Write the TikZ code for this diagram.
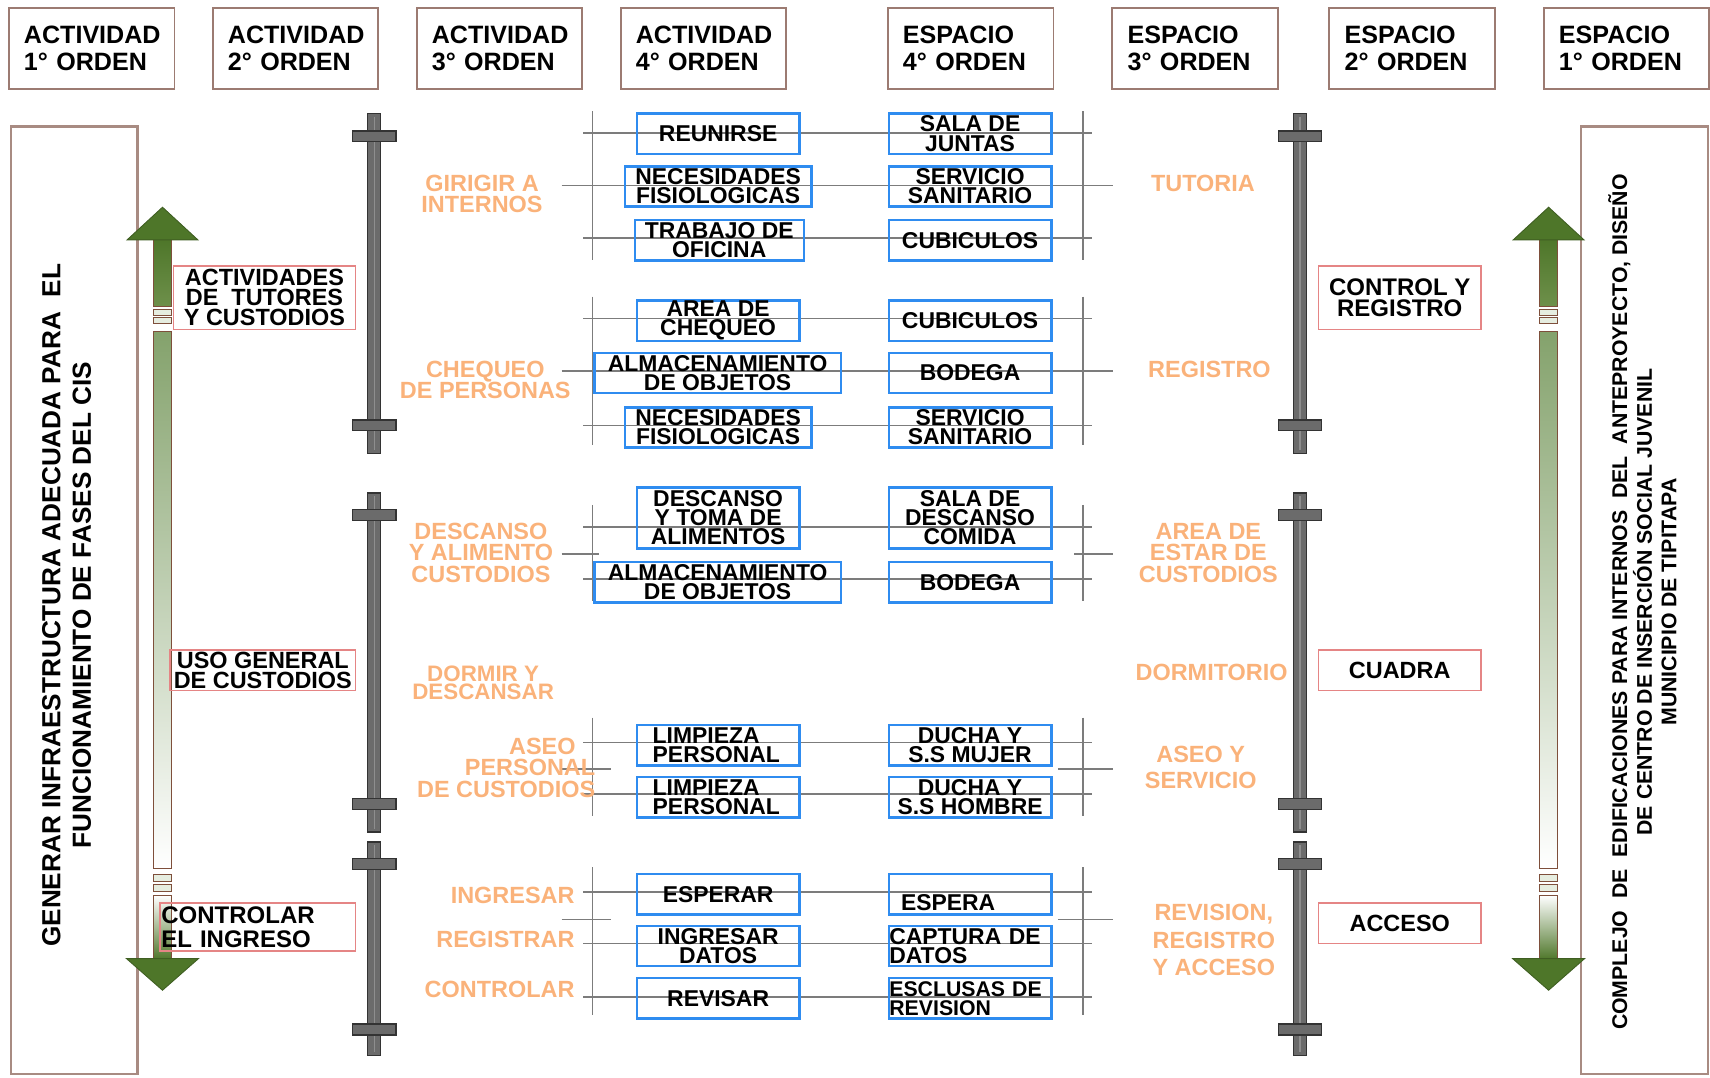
\documentclass[tikz,border=0pt]{standalone}
\usepackage{fontspec}
\setmainfont{Liberation Sans}
\definecolor{hdrc}{HTML}{9C7B72}
\definecolor{bigc}{HTML}{A88B82}
\definecolor{redc}{HTML}{E58585}
\definecolor{bluec}{HTML}{2F8CF0}
\definecolor{orangec}{HTML}{FAB27A}
\definecolor{linec}{HTML}{7C7C7C}
\definecolor{barfill}{HTML}{6B6B6B}
\definecolor{bardraw}{HTML}{333333}
\definecolor{barhi}{HTML}{8E8E8E}
\definecolor{gdark}{HTML}{4E7629}
\definecolor{gmid}{HTML}{6E904B}
\definecolor{gmid2}{HTML}{84A26C}
\definecolor{gpale}{HTML}{E6EDE0}
\definecolor{gline}{HTML}{3F5E22}
\definecolor{brn}{HTML}{7E4F3B}
\begin{document}
\begin{tikzpicture}[x=1pt,y=-1pt,
  hdr/.style={draw=hdrc, line width=1.8pt, minimum width=152pt, minimum height=75pt,
    text width=124pt, align=left, inner xsep=14pt, inner ysep=0pt,
    font=\fontsize{23}{25}\selectfont\bfseries},
  bigbox/.style={draw=bigc, line width=2pt, minimum width=116pt, minimum height=869pt, inner sep=0pt},
  bigtext/.style={align=center, inner sep=0pt, font=\fontsize{24}{28}\selectfont\bfseries},
  rtext/.style={align=center, inner sep=0pt, font=\fontsize{19.5}{22.5}\selectfont\bfseries},
  bbox/.style={draw=bluec, line width=2.2pt, inner sep=0pt, align=center,
    font=\fontsize{21}{17.5}\selectfont\bfseries, minimum height=37pt, minimum width=149pt},
  btext/.style={inner sep=0pt, font=\fontsize{21}{17.5}\selectfont\bfseries},
  rbox/.style={draw=redc, line width=1.5pt, inner sep=0pt, align=center,
    font=\fontsize{21.5}{18.5}\selectfont\bfseries, minimum height=37pt, minimum width=149pt},
  ot/.style={text=orangec, inner sep=0pt, align=center, font=\fontsize{21.5}{19.5}\selectfont\bfseries},
  gl/.style={draw=linec, line width=1.4pt},
  gv/.style={draw=linec, line width=1.2pt},
  bar/.style={draw=bardraw, fill=barfill, line width=1.2pt},
  brnline/.style={draw=brn, line width=0.8pt}
]
\useasboundingbox (0,0) rectangle (1568,988);

% ---------- headers ----------
\node[hdr] (h1) at (84,44.5) {ACTIVIDAD\\1° ORDEN};
\node[hdr] (h2) at (271,44.5) {ACTIVIDAD\\2° ORDEN};
\node[hdr] (h3) at (458,44.5) {ACTIVIDAD\\3° ORDEN};
\node[hdr] (h4) at (645,44.5) {ACTIVIDAD\\4° ORDEN};
\node[hdr] (h5) at (890,44.5) {ESPACIO\\4° ORDEN};
\node[hdr] (h6) at (1096,44.5) {ESPACIO\\3° ORDEN};
\node[hdr] (h7) at (1295,44.5) {ESPACIO\\2° ORDEN};
\node[hdr] (h8) at (1491.5,44.5) {ESPACIO\\1° ORDEN};

% ---------- big side boxes ----------
\node[bigbox] (lbox) at (68,550.5) {};
\node[bigtext, rotate=90] (ltext) at (61,555) {GENERAR INFRAESTRUCTURA ADECUADA PARA\ \ EL\\FUNCIONAMIENTO DE FASES DEL CIS};
\node[bigbox] (rbox) at (1508,550.5) {};
\node[rtext, rotate=90] (rtxt) at (1506,552) {COMPLEJO\ \ DE\ \ EDIFICACIONES PARA INTERNOS\ \ DEL\ \ ANTEPROYECTO, DISEÑO\\DE CENTRO DE INSERCIÓN SOCIAL JUVENIL\\MUNICIPIO DE TIPITAPA};

% ---------- green arrows ----------
\foreach \ax in {149,1420}{
  \shade[top color=gdark, bottom color=gmid] (\ax-8,219) rectangle (\ax+8,281);
  \draw[brnline] (\ax-8,219) rectangle (\ax+8,281);
  \draw[brnline, fill=gpale] (\ax-8,284) rectangle (\ax+8,289);
  \draw[brnline, fill=gpale] (\ax-8,291.5) rectangle (\ax+8,296.5);
  \shade[top color=gmid2, bottom color=white] (\ax-8,304) rectangle (\ax+8,796);
  \draw[brnline] (\ax-8,304) rectangle (\ax+8,796);
  \draw[brnline, fill=gpale] (\ax-8,802) rectangle (\ax+8,808);
  \draw[brnline, fill=gpale] (\ax-8,811) rectangle (\ax+8,817);
  \shade[top color=white, bottom color=gdark] (\ax-8,821) rectangle (\ax+8,880);
  \draw[brnline] (\ax-8,880) -- (\ax-8,821) -- (\ax+8,821) -- (\ax+8,880);
  \draw[fill=gdark, draw=gline, line width=0.8pt] (\ax,190) -- (\ax+32.5,220) -- (\ax-32.5,220) -- cycle;
  \draw[fill=gdark, draw=gline, line width=0.8pt] (\ax-33,879) -- (\ax+33,879) -- (\ax,908) -- cycle;
}

% ---------- gray bars ----------
\foreach \bx in {343,1192}{
  \foreach \ta/\tb/\ca/\cb in {104/416/125/390, 452/763/472/737, 772/968/792/944}{
    \draw[bar] (\bx-6,\ta) rectangle (\bx+6,\tb);
    \draw[barhi, line width=1pt] (\bx,\ta+3) -- (\bx,\tb-3);
    \draw[bar] (\bx-20,\ca-5) rectangle (\bx+20,\ca+5);
    \draw[bar] (\bx-20,\cb-5) rectangle (\bx+20,\cb+5);
  }
}

% ---------- thin gray grid lines ----------
\foreach \ya/\yb in {102/238, 272/408, 463/551, 658/748, 795/931}{
  \draw[gv] (543,\ya) -- (543,\yb);
  \draw[gv] (993,\ya) -- (993,\yb);
}
\foreach \yy in {122,218,292,390,483,531,681,728,818,865,914}{
  \draw[gl] (535,\yy) -- (1001,\yy);
}
\foreach \yy in {170,340}{
  \draw[gl] (515,\yy) -- (1021,\yy);
}
\draw[gl] (515,508) -- (549,508);
\draw[gl] (985,508) -- (1021,508);
\draw[gl] (515,705) -- (560,705);
\draw[gl] (970,705) -- (1021,705);
\draw[gl] (515,843) -- (560,843);
\draw[gl] (970,843) -- (1021,843);

% ---------- blue boxes: activity 4th order ----------
\node[bbox] (a1) at (658.5,122.5) {REUNIRSE};
\node[bbox, minimum width=171pt] (a2) at (658.5,171) {NECESIDADES\\FISIOLOGICAS};
\node[bbox, minimum width=155pt] (a3) at (659.5,220.5) {TRABAJO DE\\OFICINA};
\node[bbox] (a4) at (658.5,294) {AREA DE\\CHEQUEO};
\node[bbox, minimum width=226pt] (a5) at (658,342) {ALMACENAMIENTO\\DE OBJETOS};
\node[bbox, minimum width=171pt] (a6) at (658.5,392) {NECESIDADES\\FISIOLOGICAS};
\node[bbox, minimum height=56pt] (a7) at (658.5,475) {DESCANSO\\Y TOMA DE\\ALIMENTOS};
\node[bbox, minimum width=226pt] (a8) at (658,534) {ALMACENAMIENTO\\DE OBJETOS};
\node[bbox, text width=120pt, align=left, inner xsep=14.5pt] (a9) at (658.5,683.5) {LIMPIEZA\\PERSONAL};
\node[bbox, text width=120pt, align=left, inner xsep=14.5pt] (a10) at (658.5,731) {LIMPIEZA\\PERSONAL};
\node[bbox] (a11) at (658.5,820) {ESPERAR};
\node[bbox] (a12) at (658.5,867.5) {INGRESAR\\DATOS};
\node[bbox] (a13) at (658.5,915.5) {REVISAR};

% ---------- blue boxes: space 4th order ----------
\node[bbox] (s1) at (889.5,122.5) {SALA DE\\JUNTAS};
\node[bbox] (s2) at (889.5,171) {SERVICIO\\SANITARIO};
\node[bbox] (s3) at (889.5,220.5) {CUBICULOS};
\node[bbox] (s4) at (889.5,294) {CUBICULOS};
\node[bbox] (s5) at (889.5,342) {BODEGA};
\node[bbox] (s6) at (889.5,392) {SERVICIO\\SANITARIO};
\node[bbox, minimum height=56pt] (s7) at (889.5,475) {SALA DE\\DESCANSO\\COMIDA};
\node[bbox] (s8) at (889.5,534) {BODEGA};
\node[bbox] (s9) at (889.5,683.5) {DUCHA Y\\S.S MUJER};
\node[bbox] (s10) at (889.5,731) {DUCHA Y\\S.S HOMBRE};
\node[bbox] (s11) at (889.5,820) {};
\node[btext, anchor=west] (s11t) at (826,828) {ESPERA};
\node[bbox, text width=148pt, align=left, inner xsep=0.5pt] (s12) at (889.5,867.5) {CAPTURA DE\\DATOS};
\node[bbox, text width=148pt, align=left, inner xsep=0.5pt, font=\fontsize{19.5}{17}\selectfont\bfseries] (s13) at (889.5,915.5) {ESCLUSAS DE\\REVISION};

% ---------- orange labels: activity 3rd order ----------
\node[ot] (o1) at (442,177.5) {GIRIGIR A\\INTERNOS};
\node[ot] (o2) at (445,348.5) {CHEQUEO\\DE PERSONAS};
\node[ot] (o3) at (441,507) {DESCANSO\\Y ALIMENTO\\CUSTODIOS};
\node[ot, font=\fontsize{20.5}{17}\selectfont\bfseries] (o4) at (443,626) {DORMIR Y\\DESCANSAR};
\node[ot, align=right, anchor=east] (o5) at (546,704) {ASEO\hspace*{18pt}\\PERSONAL\hspace*{20pt}\\DE CUSTODIOS};
\node[ot, anchor=east] (o6) at (527,821) {INGRESAR};
\node[ot, anchor=east] (o7) at (527,861) {REGISTRAR};
\node[ot, anchor=east] (o8) at (527,907) {CONTROLAR};

% ---------- orange labels: space 3rd order ----------
\node[ot] (e1) at (1103,168) {TUTORIA};
\node[ot] (e2) at (1109,339) {REGISTRO};
\node[ot, font=\fontsize{21.5}{20}\selectfont\bfseries] (e3) at (1108,507) {AREA DE\\ESTAR DE\\CUSTODIOS};
\node[ot] (e4) at (1111,617) {DORMITORIO};
\node[ot, font=\fontsize{21.5}{24}\selectfont\bfseries] (e5) at (1101,704) {ASEO Y\\SERVICIO};
\node[ot, font=\fontsize{21.5}{25}\selectfont\bfseries] (e6) at (1113,862) {REVISION,\\REGISTRO\\Y ACCESO};

% ---------- red boxes: 2nd order ----------
\node[rbox, minimum width=167pt, minimum height=58pt] (l1) at (242.5,273) {ACTIVIDADES\\DE\ \ TUTORES\\Y CUSTODIOS};
\node[rbox, minimum width=170pt] (l2) at (241,614.5) {USO GENERAL\\DE CUSTODIOS};
\node[rbox, minimum width=179pt, minimum height=44pt, text width=177pt, align=left, inner xsep=1pt, font=\fontsize{22}{22}\selectfont\bfseries] (l3) at (236.5,850) {CONTROLAR\\EL INGRESO};
\node[rbox, minimum height=58pt, font=\fontsize{22}{20}\selectfont\bfseries] (r1) at (1283.5,273) {CONTROL Y\\REGISTRO};
\node[rbox] (r2) at (1283.5,614.5) {CUADRA};
\node[rbox] (r3) at (1283.5,846.5) {ACCESO};
\end{tikzpicture}
\end{document}
